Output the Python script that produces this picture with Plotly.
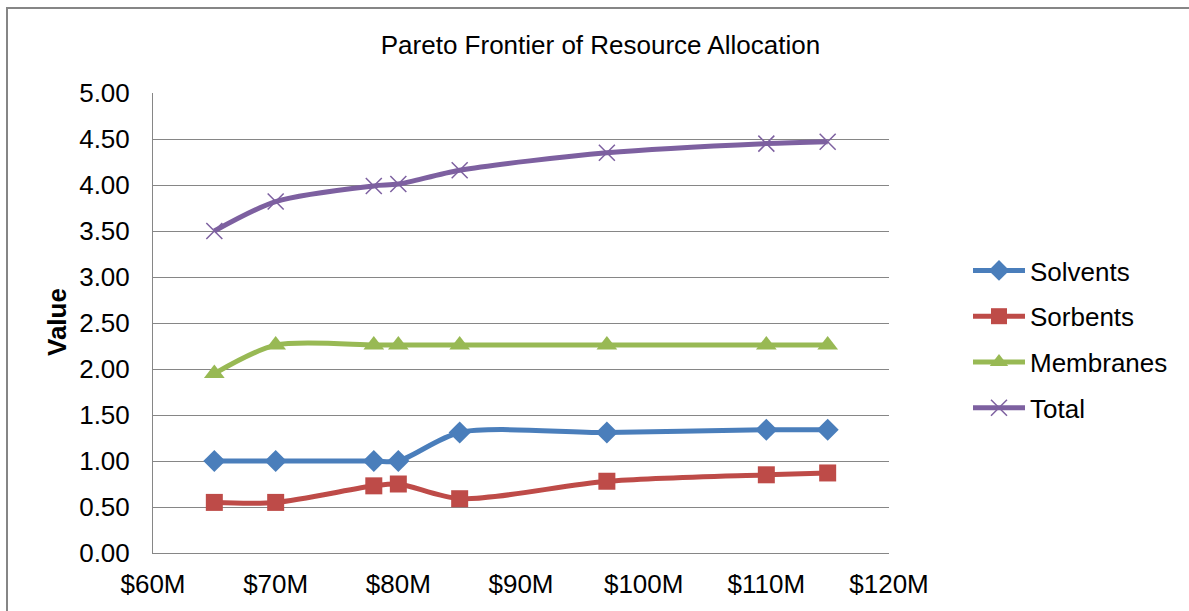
import plotly.graph_objects as go

cost_m = [65, 70, 78, 80, 85, 97, 110, 115]
solvents = [1.00, 1.00, 1.00, 1.00, 1.31, 1.31, 1.34, 1.34]
sorbents = [0.55, 0.55, 0.73, 0.75, 0.59, 0.78, 0.85, 0.87]
membranes = [1.95, 2.26, 2.26, 2.26, 2.26, 2.26, 2.26, 2.26]
total = [3.50, 3.82, 3.99, 4.01, 4.16, 4.35, 4.45, 4.47]

x_ticks = [60, 70, 80, 90, 100, 110, 120]
x_labels = ["$60M", "$70M", "$80M", "$90M", "$100M", "$110M", "$120M"]
y_ticks = [0, 0.5, 1, 1.5, 2, 2.5, 3, 3.5, 4, 4.5, 5]

FONT = "Liberation Sans, Arial, sans-serif"
FS = 26

series = [
    ("Solvents", solvents, "#4A7EBB", dict(symbol="diamond", size=17)),
    ("Sorbents", sorbents, "#BE4B48", dict(symbol="square", size=17)),
    ("Membranes", membranes, "#98B954", dict(symbol="triangle-up", size=18)),
    ("Total", total, "#7D60A0", dict(symbol="x-thin", size=16)),
]

fig = go.Figure()
for i, (name, vals, col, mk) in enumerate(series):
    m = dict(color=col, **mk)
    if mk["symbol"] == "x-thin":
        m["line"] = dict(width=1.5, color=col)
    fig.add_trace(go.Scatter(
        x=cost_m, y=vals, name=name, mode="lines+markers",
        line=dict(color=col, width=5, shape="spline", smoothing=0.8),
        marker=m, legendgroup=name,
    ))

L, R, T, B = 153, 300, 93, 58
W, H = 1189, 611
pw, ph = W - L - R, H - T - B

fig.update_layout(
    width=W, height=H,
    margin=dict(l=L, r=R, t=T, b=B),
    paper_bgcolor="white", plot_bgcolor="white",
    font=dict(family=FONT, size=FS, color="black"),
    title=dict(text="Pareto Frontier of Resource Allocation", x=0.505, xref="container",
               xanchor="center", y=1 - 45 / H, yref="container", yanchor="middle",
               font=dict(size=FS, family=FONT, color="black")),
    xaxis=dict(range=[60, 120], tickvals=x_ticks, ticktext=x_labels,
               showgrid=False, showline=True, linecolor="#868686", linewidth=1,
               zeroline=False, ticks="", ticklabelstandoff=8,
               tickfont=dict(size=FS, family=FONT, color="black")),
    yaxis=dict(range=[0, 5], tickvals=y_ticks, tickformat=".2f",
               showgrid=True, gridcolor="#868686", gridwidth=1,
               showline=True, linecolor="#868686", linewidth=1,
               zeroline=False, ticks="", ticklabelstandoff=17,
               tickfont=dict(size=FS, family=FONT, color="black")),
    legend=dict(x=(968 - L) / pw, xanchor="left", y=(553 - 339.5) / ph, yanchor="middle",
                font=dict(size=FS, family=FONT, color="black"),
                tracegroupgap=9, itemwidth=52, bgcolor="rgba(0,0,0,0)"),
    showlegend=True,
)

fig.add_annotation(text="<b>Value</b>", textangle=-90, xref="paper", yref="paper",
                   x=(57 - L) / pw, y=(553 - 322) / ph, xanchor="center", yanchor="middle",
                   showarrow=False,
                   font=dict(size=FS, family=FONT, color="black"))

fig.add_shape(type="rect", xref="paper", yref="paper",
              x0=(7 - L) / pw, x1=(1300 - L) / pw,
              y0=(553 - 700) / ph, y1=1 + (T - 8) / ph,
              line=dict(color="#868686", width=2), fillcolor="rgba(0,0,0,0)", layer="below")

fig.write_html("out.html")
